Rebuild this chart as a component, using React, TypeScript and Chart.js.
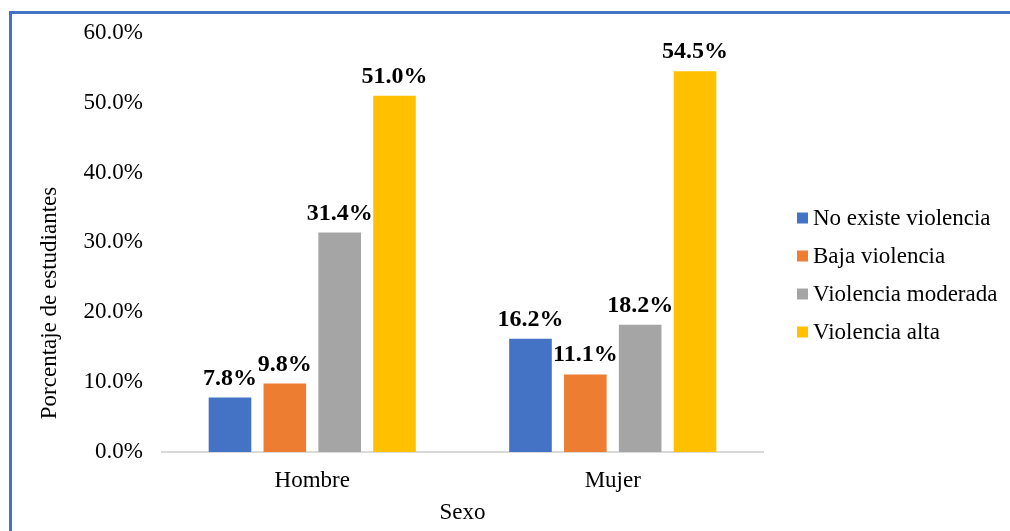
import React, { useEffect, useRef } from "react";
import { Chart, registerables } from "chart.js";

Chart.register(...registerables);

const categories = ["Hombre", "Mujer"];
const seriesNames = ["No existe violencia", "Baja violencia", "Violencia moderada", "Violencia alta"];
const noExiste = [7.8, 16.2];
const baja = [9.8, 11.1];
const moderada = [31.4, 18.2];
const alta = [51.0, 54.5];
const seriesColors = ["#4472C4", "#ED7D31", "#A5A5A5", "#FFC000"];
const yTicks = [0, 10, 20, 30, 40, 50, 60];
const yTitle = "Porcentaje de estudiantes";
const xTitle = "Sexo";

const FONT = '"Liberation Serif", "Times New Roman", serif';

const barLabelPlugin = {
  id: "barLabels",
  afterDatasetsDraw(chart: any) {
    const ctx = chart.ctx;
    ctx.save();
    ctx.font = `bold 24px ${FONT}`;
    ctx.fillStyle = "#000";
    ctx.textAlign = "center";
    ctx.textBaseline = "alphabetic";
    chart.data.datasets.forEach((ds: any, di: number) => {
      const meta = chart.getDatasetMeta(di);
      meta.data.forEach((bar: any, i: number) => {
        const v = ds.data[i] as number;
        ctx.fillText(v.toFixed(1) + "%", bar.x, bar.y - 13);
      });
    });
    ctx.restore();
  },
};

const legendPlugin = {
  id: "customLegend",
  afterDraw(chart: any, _args: any, opts: any) {
    const ctx = chart.ctx;
    ctx.save();
    ctx.font = `23px ${FONT}`;
    ctx.textAlign = "left";
    ctx.textBaseline = "middle";
    chart.data.datasets.forEach((ds: any, i: number) => {
      const y = opts.y + i * opts.gap;
      ctx.fillStyle = ds.backgroundColor;
      ctx.fillRect(opts.x, y - 5.5, 11, 11);
      ctx.fillStyle = "#000";
      ctx.fillText(ds.label, opts.x + 16, y + 1);
    });
    ctx.restore();
  },
};

const yTitlePlugin = {
  id: "yTitle",
  afterDraw(chart: any, _args: any, opts: any) {
    const ctx = chart.ctx;
    ctx.save();
    ctx.font = `23px ${FONT}`;
    ctx.fillStyle = "#000";
    ctx.textAlign = "center";
    ctx.textBaseline = "middle";
    ctx.translate(opts.x, opts.y);
    ctx.rotate(-Math.PI / 2);
    ctx.fillText(opts.text, 0, 0);
    ctx.restore();
  },
};

export default function App() {
  const ref = useRef<HTMLCanvasElement | null>(null);
  useEffect(() => {
    if (!ref.current) return;
    Chart.defaults.font.family = FONT;
    const seriesData = [noExiste, baja, moderada, alta];
    const chart = new Chart(ref.current, {
      type: "bar",
      data: {
        labels: categories,
        datasets: seriesNames.map((name, i) => ({
          label: name,
          data: seriesData[i],
          backgroundColor: seriesColors[i],
          borderWidth: 0,
          categoryPercentage: 0.73,
          barPercentage: 0.777,
        })),
      },
      options: {
        responsive: false,
        animation: false,
        layout: { padding: { left: 35, right: 247, top: 32, bottom: 0 } },
        plugins: {
          legend: { display: false },
          tooltip: { enabled: false },
          customLegend: { x: 797, y: 218, gap: 38 },
          yTitle: { x: 50, y: 303, text: yTitle },
        } as any,
        scales: {
          x: {
            grid: { display: false, drawTicks: false },
            border: { display: true, color: "#D9D9D9", width: 2 },
            ticks: { color: "#000", font: { size: 23, family: FONT }, padding: 15 },
            title: {
              display: true,
              text: xTitle,
              color: "#000",
              font: { size: 23, family: FONT },
              padding: { top: 0, bottom: 4 },
            },
            afterFit: (scale: any) => {
              scale.height = 79;
            },
          },
          y: {
            min: 0,
            max: 60,
            grid: { display: false, drawTicks: false },
            border: { display: false },
            afterBuildTicks: (scale: any) => {
              scale.ticks = yTicks.map((v) => ({ value: v }));
            },
            ticks: {
              color: "#000",
              font: { size: 23, family: FONT },
              padding: 19,
              callback: (v: any) => Number(v).toFixed(1) + "%",
            },
            title: { display: false },
            afterFit: (scale: any) => {
              scale.width = 127;
            },
          },
        },
      },
      plugins: [barLabelPlugin, legendPlugin, yTitlePlugin],
    });
    return () => chart.destroy();
  }, []);

  return (
    <div style={{ position: "absolute", left: 0, top: 0, width: 1010, height: 531, background: "#fff", overflow: "hidden" }}>
      <canvas ref={ref} width={1010} height={531} style={{ position: "absolute", left: 0, top: 0 }} />
      <div
        style={{
          position: "absolute",
          left: 9,
          top: 11,
          width: 1010,
          height: 600,
          borderLeft: "3px solid #4472C4",
          borderTop: "3px solid #4472C4",
          pointerEvents: "none",
        }}
      />
    </div>
  );
}
